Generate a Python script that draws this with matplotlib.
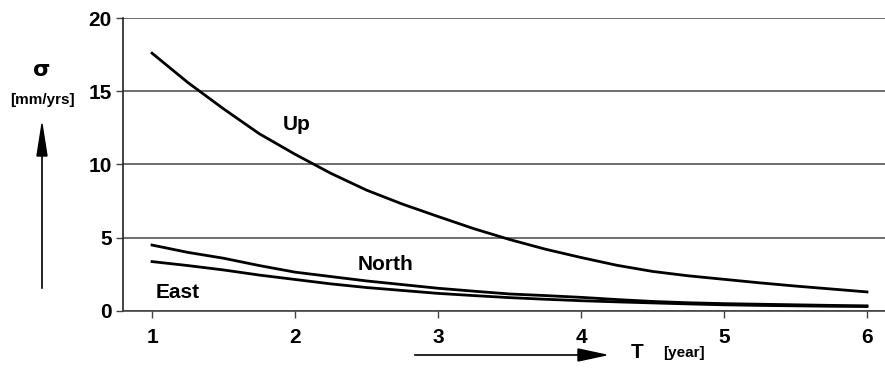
import matplotlib.pyplot as plt

# data
T = [1, 1.25, 1.5, 1.75, 2, 2.25, 2.5, 2.75, 3, 3.25, 3.5, 3.75, 4,
     4.25, 4.5, 4.75, 5, 5.25, 5.5, 5.75, 6]
sigma_up = [17.6, 15.6, 13.8, 12.1, 10.7, 9.4, 8.25, 7.3, 6.45, 5.62, 4.88,
            4.22, 3.65, 3.12, 2.7, 2.4, 2.16, 1.92, 1.7, 1.5, 1.3]
sigma_north = [4.5, 4.0, 3.6, 3.1, 2.65, 2.35, 2.05, 1.8, 1.55, 1.35, 1.16,
               1.05, 0.93, 0.78, 0.65, 0.56, 0.5, 0.46, 0.42, 0.38, 0.35]
sigma_east = [3.37, 3.1, 2.8, 2.45, 2.15, 1.85, 1.6, 1.4, 1.2, 1.05, 0.91,
              0.8, 0.7, 0.62, 0.55, 0.48, 0.42, 0.38, 0.35, 0.32, 0.3]
x_ticks = [1, 2, 3, 4, 5, 6]
y_ticks = [0, 5, 10, 15, 20]

plt.rcParams["font.family"] = ["Liberation Sans", "DejaVu Sans"]
plt.rcParams["font.weight"] = "bold"

fig = plt.figure(figsize=(8.85, 3.68), dpi=100)
ax = fig.add_axes([0.139, 0.155, 0.861, 0.796])

for vals in (sigma_up, sigma_north, sigma_east):
    ax.plot(T, vals, color="black", lw=2.0)

ax.set_xlim(0.797, 6.126)
ax.set_ylim(0, 20)
ax.set_xticks(x_ticks)
ax.set_yticks(y_ticks)
ax.tick_params(axis="both", labelsize=15, length=5, width=1, color="#444444", pad=3)
ax.tick_params(axis="x", pad=7)
for lab in ax.get_xticklabels() + ax.get_yticklabels():
    lab.set_fontweight("bold")
ax.grid(axis="y", color="#555555", lw=1.2)
for s in ("top", "right"):
    ax.spines[s].set_visible(False)
ax.spines["left"].set_color("#222222")
ax.spines["bottom"].set_color("#444444")
ax.spines["left"].set_linewidth(1.2)
ax.spines["bottom"].set_linewidth(1.2)

# curve labels
ax.text(2.01, 12.7, "Up", fontsize=15, fontweight="bold", ha="center", va="center")
ax.text(2.63, 3.14, "North", fontsize=15, fontweight="bold", ha="center", va="center")
ax.text(1.18, 1.25, "East", fontsize=15, fontweight="bold", ha="center", va="center")

# y axis label with arrow
fig.text(42 / 885, 1 - 70 / 368, "σ", fontsize=16, fontweight="bold",
         ha="center", va="center", family=["DejaVu Sans"])
fig.text(42 / 885, 1 - 100 / 368, "[mm/yrs]", fontsize=11, fontweight="bold",
         ha="center", va="center")
fig.add_artist(plt.Line2D([42 / 885, 42 / 885], [1 - 288 / 368, 1 - 150 / 368],
                          color="black", lw=1.2))
fig.add_artist(plt.Polygon([[37 / 885, 1 - 156 / 368], [47 / 885, 1 - 156 / 368],
                            [42 / 885, 1 - 124 / 368]], closed=True, color="black"))

# x axis label with arrow
fig.add_artist(plt.Line2D([415 / 885, 585 / 885], [1 - 355 / 368, 1 - 355 / 368],
                          color="black", lw=1.2))
fig.add_artist(plt.Polygon([[578 / 885, 1 - 349 / 368], [578 / 885, 1 - 361 / 368],
                            [606 / 885, 1 - 355 / 368]], closed=True, color="black"))
fig.text(637 / 885, 1 - 353 / 368, "T", fontsize=15, fontweight="bold",
         ha="center", va="center")
fig.text(684 / 885, 1 - 353 / 368, "[year]", fontsize=11, fontweight="bold",
         ha="center", va="center")

fig.savefig("out.png", dpi=100)
